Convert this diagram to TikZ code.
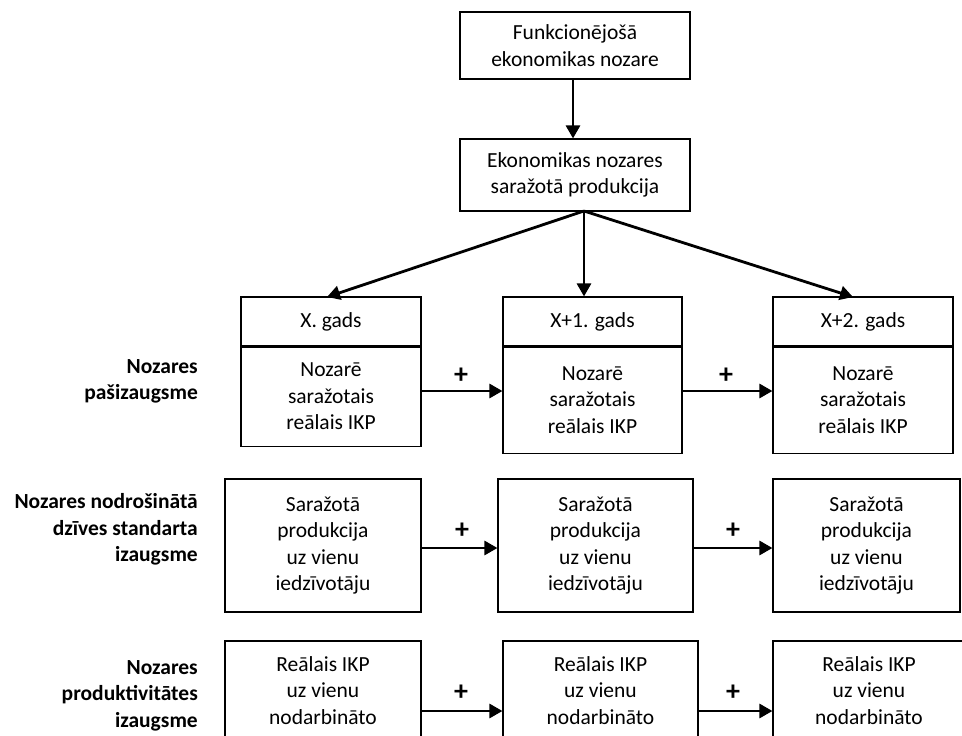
\documentclass[tikz,border=0pt]{standalone}
\usepackage{fontspec}
\setmainfont{Carlito}
\usetikzlibrary{arrows.meta}
\begin{document}
\begin{tikzpicture}[x=1pt,y=-1pt,
  txt/.style={font=\fontsize{21.5}{26.5}\selectfont, align=center, inner sep=0pt},
  box/.style={txt, draw, line width=1.1pt},
  lbl/.style={font=\bfseries\fontsize{21.5}{26.5}\selectfont, align=right, inner sep=0pt, anchor=east},
  arr/.style={line width=2.8pt, -{Triangle[length=13pt,width=14pt]}},
  plus/.style={font=\bfseries\fontsize{28}{30}\selectfont, inner sep=0pt}]
\useasboundingbox (0,0) rectangle (962,736);
\clip (0,0) rectangle (962,736);

% top boxes
\node[box, minimum width=230, minimum height=67] (top) at (575,45.5) {Funkcionējošā\\ekonomikas nozare};
\node[box, minimum width=230, minimum height=72] (prod) at (575,175) {Ekonomikas nozares\\saražotā produkcija};
\draw[arr] (top.south -| 573,0) -- (prod.north -| 573,0);

% row 1
\node[box, minimum width=180, minimum height=49] (h1) at (331,321.5) {X. gads};
\node[box, minimum width=180, minimum height=99, anchor=north] (b1) at (h1.south) {Nozarē\\saražotais\\reālais IKP};
\node[box, minimum width=179, minimum height=49] (h2) at (592.5,321.5) {X+1. gads};
\node[box, minimum width=179, minimum height=106, anchor=north] (b2) at (h2.south) {Nozarē\\saražotais\\reālais IKP};
\node[box, minimum width=180, minimum height=49] (h3) at (863,321.5) {X+2. gads};
\node[box, minimum width=180, minimum height=106, anchor=north] (b3) at (h3.south) {Nozarē\\saražotais\\reālais IKP};

\coordinate (src) at (584,211);
\coordinate (t1) at (327,297);
\coordinate (t3) at (853,297);
\draw[arr] (src) -- (t1);
\draw[arr] (src) -- (src |- h2.north);
\draw[arr] (src) -- (t3);

\coordinate (r1) at (0,391);
\draw[arr] (b1.east |- r1) -- (b2.west |- r1);
\draw[arr] (b2.east |- r1) -- (b3.west |- r1);
\node[plus] (p11) at (461,376) {+};
\node[plus] (p12) at (726,376) {+};

% row 2
\node[box, minimum width=196, minimum height=133] (c1) at (323,545.5) {Saražotā\\produkcija\\uz vienu\\iedzīvotāju};
\node[box, minimum width=195, minimum height=133] (c2) at (595.5,545.5) {Saražotā\\produkcija\\uz vienu\\iedzīvotāju};
\node[box, minimum width=187, minimum height=133] (c3) at (866.5,545.5) {Saražotā\\produkcija\\uz vienu\\iedzīvotāju};
\coordinate (r2) at (0,548);
\draw[arr] (c1.east |- r2) -- (c2.west |- r2);
\draw[arr] (c2.east |- r2) -- (c3.west |- r2);
\node[plus] (p21) at (462,531) {+};
\node[plus] (p22) at (733,531) {+};

% row 3
\node[box, minimum width=196, minimum height=133] (d1) at (323,707.5) {Reālais IKP\\uz vienu\\nodarbināto\\\strut};
\node[box, minimum width=195, minimum height=133] (d2) at (600.5,707.5) {Reālais IKP\\uz vienu\\nodarbināto\\\strut};
\node[box, minimum width=192, minimum height=133] (d3) at (869,707.5) {Reālais IKP\\uz vienu\\nodarbināto\\\strut};
\coordinate (r3) at (0,711);
\draw[arr] (d1.east |- r3) -- (d2.west |- r3);
\draw[arr] (d2.east |- r3) -- (d3.west |- r3);
\node[plus] (p31) at (461,693) {+};
\node[plus] (p32) at (733,693) {+};

% row labels
\node[lbl] (l1) at (198,381.5) {Nozares\\pašizaugsme};
\node[lbl] (l2) at (198,529.5) {Nozares nodrošinātā\\dzīves standarta\\izaugsme};
\node[lbl] (l3) at (198,695.5) {Nozares\\produktivitātes\\izaugsme};
\end{tikzpicture}
\end{document}
